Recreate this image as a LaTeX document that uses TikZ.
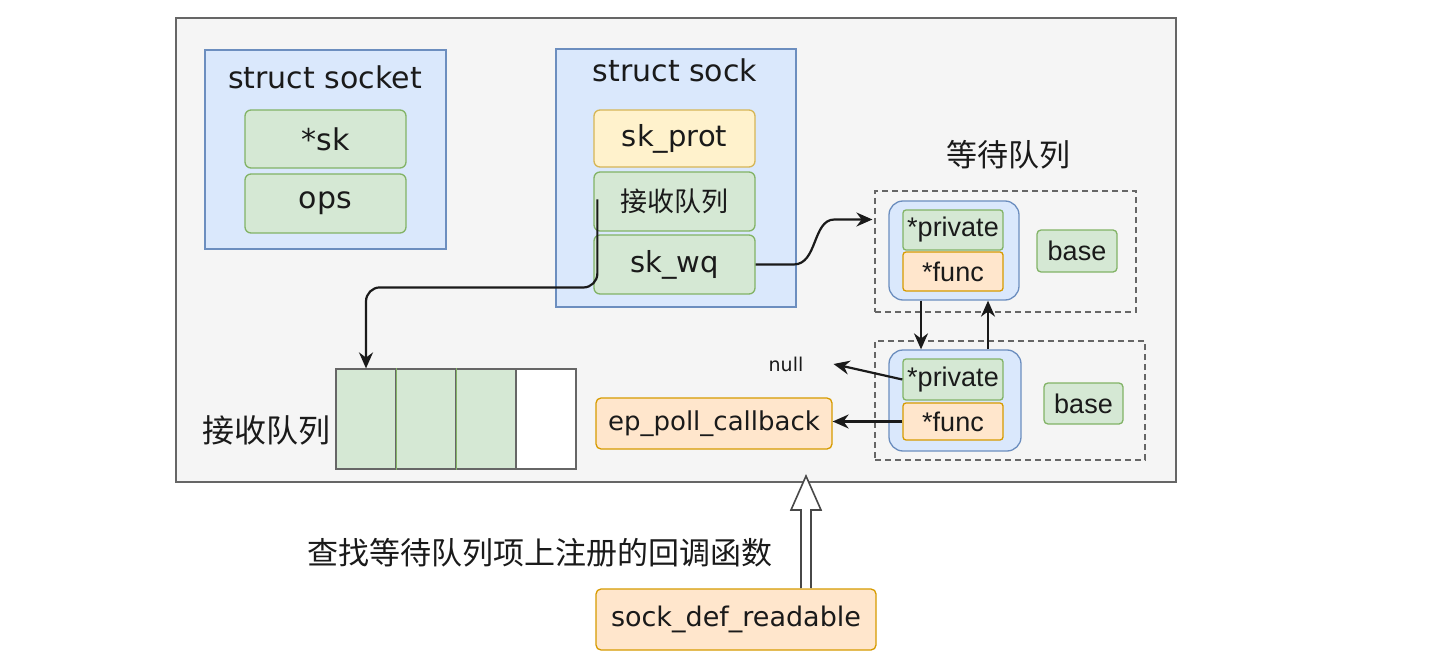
\documentclass[tikz,border=0pt]{standalone}
\usepackage{fontspec}
\setmainfont{DejaVu Sans}
\newfontfamily\cjk{Noto Sans CJK SC}
\newfontfamily\arial{Liberation Sans}
\usetikzlibrary{arrows.meta,calc}
\definecolor{bgfill}{HTML}{F5F5F5}
\definecolor{bgline}{HTML}{666666}
\definecolor{bluefill}{HTML}{DAE8FC}
\definecolor{blueline}{HTML}{6C8EBF}
\definecolor{greenfill}{HTML}{D5E8D4}
\definecolor{greenline}{HTML}{82B366}
\definecolor{yelfill}{HTML}{FFF2CC}
\definecolor{yelline}{HTML}{D6B656}
\definecolor{orfill}{HTML}{FFE6CC}
\definecolor{orline}{HTML}{D79B00}
\definecolor{ink}{HTML}{1A1A1A}
\tikzset{
  fs/.style={font=\fontsize{#1}{#1}\selectfont},
  wh/.style 2 args={minimum width=#1pt, minimum height=#2pt, inner sep=0pt},
  bluebox/.style={draw=blueline, fill=bluefill, line width=1.3pt},
  greenbox/.style={draw=greenline, fill=greenfill, line width=1.3pt, rounded corners=6pt},
  yelbox/.style={draw=yelline, fill=yelfill, line width=1.3pt, rounded corners=6pt},
  orbox/.style={draw=orline, fill=orfill, line width=1.3pt, rounded corners=5pt},
  dashbox/.style={draw=bgline, line width=1.2pt, dash pattern=on 6pt off 4pt},
  cell/.style={draw=bgline, line width=1.2pt, minimum width=60pt, minimum height=100pt, inner sep=0pt},
  conn/.style={draw=ink, line width=2.2pt, -{Stealth[length=16pt,width=14pt]}},
  txt/.style={text=ink},
}
\begin{document}
\begin{tikzpicture}[x=1pt,y=-1pt]
\useasboundingbox[fill=white] (0,0) rectangle (1436,666);
% outer container
\node[draw=bgline, fill=bgfill, line width=1.5pt, wh={1000}{464}] (bg) at (676,250) {};
% struct socket
\node[bluebox, wh={241}{199}] (socket) at (325.5,149.5) {};
\node[txt, fs=30] (sockettitle) at (325,77) {struct socket};
\node[greenbox, wh={161}{58}, txt, fs=30] (sk) at (325.5,139) {*sk};
\node[greenbox, wh={161}{59}, txt, fs=30] (ops) at (325.5,203.5) {ops};
% struct sock
\node[bluebox, wh={240}{258}] (sock) at (676,178) {};
\node[txt, fs=30] (socktitle) at (675,70) {struct sock};
\node[yelbox, wh={161}{57}, txt, fs=29] (skprot) at (674.5,138.5) {sk\_prot};
\node[greenbox, wh={161}{59}, txt, font=\cjk\fontsize{27}{27}\selectfont] (rqitem) at (674.5,201.5) {接收队列};
\node[greenbox, wh={161}{59}, txt, fs=29] (skwq) at (674.5,264.5) {sk\_wq};
% wait queue
\node[txt, font=\cjk\fontsize{31}{31}\selectfont] (wqlabel) at (1008,155) {等待队列};
\node[dashbox, wh={261}{121}] (d1) at (1005.5,251.5) {};
\node[bluebox, rounded corners=14pt, wh={130}{99}] (b1) at (954,250.5) {};
\node[greenbox, rounded corners=3pt, wh={100}{40}, txt, font=\arial\fontsize{27}{27}\selectfont] (p1) at (953,230) {*private};
\node[orbox, rounded corners=3pt, wh={100}{39}, txt, font=\arial\fontsize{27}{27}\selectfont] (f1) at (953,271.5) {*func};
\node[greenbox, rounded corners=4pt, wh={80}{42}, txt, font=\arial\fontsize{27}{27}\selectfont] (base1) at (1077,251) {base};
\node[dashbox, wh={270}{119}] (d2) at (1010,400.5) {};
\node[bluebox, rounded corners=14pt, wh={132}{101}] (b2) at (955,400.5) {};
\node[greenbox, rounded corners=3pt, wh={100}{41}, txt, font=\arial\fontsize{27}{27}\selectfont] (p2) at (953,379.5) {*private};
\node[orbox, rounded corners=3pt, wh={100}{37}, txt, font=\arial\fontsize{27}{27}\selectfont] (f2) at (953,421.5) {*func};
\node[greenbox, rounded corners=4pt, wh={79}{41}, txt, font=\arial\fontsize{27}{27}\selectfont] (base2) at (1083.5,403.5) {base};
% null and callback
\node[txt, fs=19, inner sep=0pt] (null) at (786,364) {null};
\node[orbox, wh={236}{51}, txt, fs=26] (ep) at (714,423.5) {ep\_poll\_callback};
% receive queue
\node[txt, font=\cjk\fontsize{32}{32}\selectfont] (rqlabel) at (266,430) {接收队列};
\node[cell, fill=greenfill] (q1) at (366,419) {};
\node[cell, fill=greenfill] (q2) at (426,419) {};
\node[cell, fill=greenfill] (q3) at (486,419) {};
\node[cell, fill=white] (q4) at (546,419) {};
\draw[greenline, line width=1.2pt] (q1.north east) -- (q1.south east) (q2.north east) -- (q2.south east);
% bottom
\node[txt, font=\cjk\fontsize{31}{31}\selectfont] (lookup) at (540,553) {查找等待队列项上注册的回调函数};
\node[orbox, wh={280}{61}, txt, fs=27] (sdr) at (736,619.5) {sock\_def\_readable};
% hollow arrow
\draw[draw=ink!80, fill=white, line width=1.6pt, line join=miter]
  (801,588) -- (801,510) -- (791,510) -- (806,476) -- (821,510) -- (811,510) -- (811,588);
% connectors
\coordinate (rqstart) at ($(rqitem.west)+(4,-2)$);
\draw[conn, rounded corners=14pt] (rqstart) -- ($(rqstart)+(0,88)$) -- ($(q1.north)+(0,-81)$) -- (q1.north);
\coordinate (d1in) at ($(d1.west)+(-2,-32)$);
\draw[conn] (skwq.east) -- ($(skwq.east)+(38,0)$) .. controls ($(skwq.east)+(62,0)$) and ($(d1in)+(-60,0)$) .. ($(d1in)+(-38,0)$) -- (d1in);
\draw[conn] ($(b1.south)+(-33,0)$) -- ($(b2.north)+(-34,0)$);
\draw[conn] ($(b2.north)+(33,0)$) -- ($(b1.south)+(34,0)$);
\draw[conn] (p2.west) -- ($(null.east)+(30,0)$);
\draw[conn] (f2.west) -- (f2.west -| ep.east);
\end{tikzpicture}
\end{document}
